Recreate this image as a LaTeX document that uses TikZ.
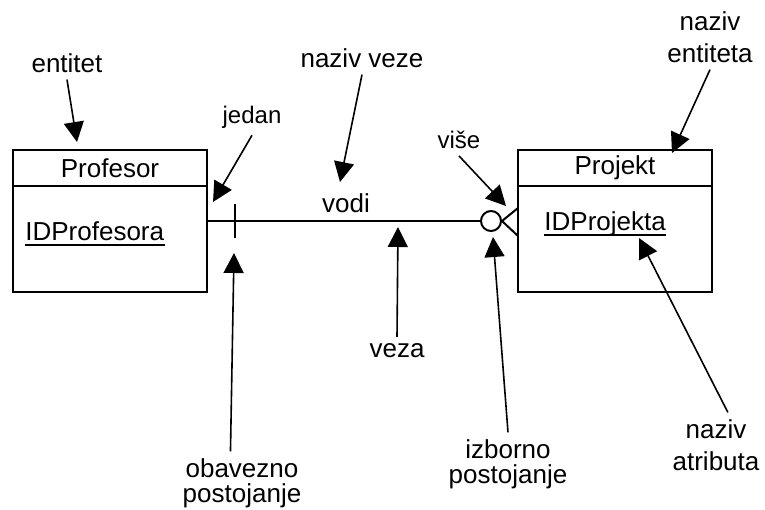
\documentclass[tikz,border=0pt]{standalone}
\usepackage{fontspec}
\setmainfont{Liberation Sans}
\usetikzlibrary{arrows.meta,positioning,calc}

\begin{document}
\begin{tikzpicture}[x=0.5pt,y=-0.5pt,
    every node/.style={font=\fontsize{13}{15}\selectfont},
    entityhead/.style={draw,line width=1pt,minimum width=97pt,minimum height=18pt,inner sep=2pt,outer sep=0pt},
    entitybody/.style={draw,line width=1pt,minimum width=97pt,minimum height=53pt,outer sep=0pt},
    attr/.style={inner sep=0pt,anchor=base west},
    small/.style={font=\fontsize{12}{14}\selectfont},
    note/.style={align=center,font=\fontsize{13}{#1}\selectfont},
    note/.default=16pt,
    rel/.style={line width=1pt},
    pointer/.style={line width=0.8pt,-{Triangle[length=10pt,width=10pt]}}]

    \useasboundingbox (0,0) rectangle (765,509);

    % Draw the entities
    \node[entityhead] (profesor) at (110,168) {Profesor};
    \node[entitybody,below=0pt of profesor] (profesorb) {};
    \node[entityhead] (projekt) at (615,168) {Projekt};
    \node[entitybody,below=0pt of projekt] (projektb) {};

    % Key attributes, underlined
    \node[attr] (idprof) at (25,240) {IDProfesora};
    \node[attr] (idproj) at (544,230) {IDProjekta};
    \draw[rel] ([yshift=-2.5pt]idprof.base west) -- ([yshift=-2.5pt]idprof.base east);
    \draw[rel] ([yshift=-2.5pt]idproj.base west) -- ([yshift=-2.5pt]idproj.base east);

    % Draw the relationship with its ends
    \node[circle,draw,rel,minimum size=10pt,inner sep=0pt] (opt) at (491,221) {};
    \draw[rel] (profesorb.east |- opt) -- (opt);
    \draw[rel] ($(profesorb.east |- opt)+(28,-17)$) -- +(0,34);
    \draw[rel] ($(projektb.west |- opt)+(0,-13)$) -- (opt.east) -- ($(projektb.west |- opt)+(0,15)$);
    \node (vodi) at (346,203) {vodi};

    % Labels
    \node (entitet) at (67,63) {entitet};
    \node[small] (jedan) at (252,117) {jedan};
    \node (nazivveze) at (362,58) {naziv veze};
    \node[small] (vise) at (459,140) {više};
    \node[note] (nazivent) at (710,37) {naziv\\entiteta};
    \node (veza) at (397,351) {veza};
    \node[note=12.5pt] (obavezno) at (242,483) {obavezno\\postojanje};
    \node[note=12.5pt] (izborno) at (508,464) {izborno\\postojanje};
    \node[note] (nazivatr) at (716,445) {naziv\\atributa};

    % Arrow tips
    \coordinate (tentitet) at (77,142);
    \coordinate (tjedan) at (213,202);
    \coordinate (tvodi) at (340,182);
    \coordinate (tvise) at (506,206);
    \coordinate (tnazivent) at (672,153);
    \coordinate (tveza) at (398,227);
    \coordinate (tobavezno) at (234,253);
    \coordinate (tizborno) at (493,237);
    \coordinate (tnazivatr) at (639,238);

    % Draw the pointers
    \draw[pointer] (entitet.south) -- (tentitet);
    \draw[pointer] (jedan.south) -- (tjedan);
    \draw[pointer] (nazivveze.south) -- (tvodi);
    \draw[pointer] (vise.south) -- (tvise);
    \draw[pointer] (nazivent.south) -- (tnazivent);
    \draw[pointer] (veza.north) -- (tveza);
    \draw[pointer] (obavezno.110) -- (tobavezno);
    \draw[pointer] (izborno.north) -- (tizborno);
    \draw[pointer] (nazivatr.70) -- (tnazivatr);

\end{tikzpicture}
\end{document}
